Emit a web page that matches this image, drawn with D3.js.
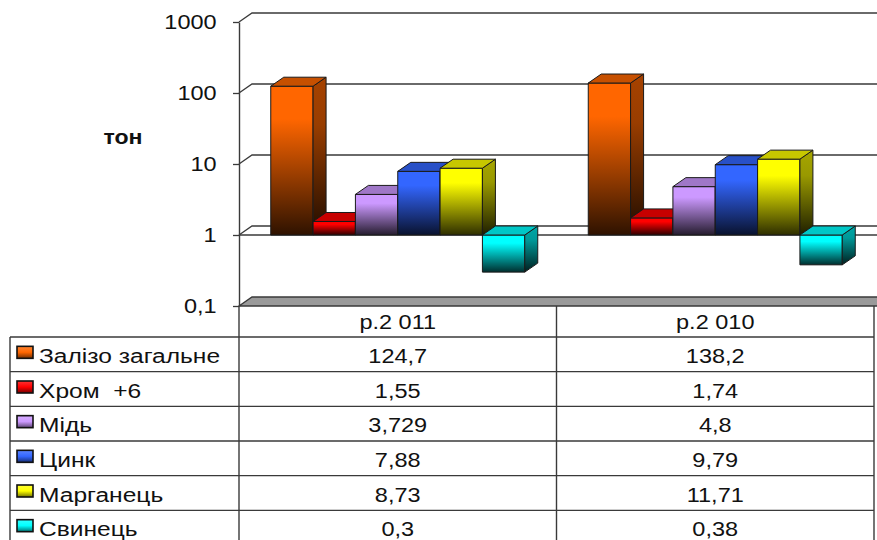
<!DOCTYPE html>
<html>
<head>
<meta charset="utf-8">
<script src="https://cdn.jsdelivr.net/npm/d3@7"></script>
<style>
  body { margin: 0; background: #fff; }
  text { font-family: "Liberation Sans", Arial, sans-serif; fill: #111; white-space: pre; }
</style>
</head>
<body>
<svg id="chart" width="877" height="540"></svg>
<script>
// Data
const years = ["р.2 011", "р.2 010"];
const metals = ["Залізо загальне", "Хром  +6", "Мідь", "Цинк", "Марганець", "Свинець"];
const values2011 = [124.7, 1.55, 3.729, 7.88, 8.73, 0.3];
const values2010 = [138.2, 1.74, 4.8, 9.79, 11.71, 0.38];
const colors = ["#FF6600", "#FF0000", "#CC99FF", "#3366FF", "#FFFF00", "#00FFFF"];
const tickValues = [1000, 100, 10, 1, 0.1];
const tickLabels = ["1000", "100", "10", "1", "0,1"];
const unitLabel = "тон";

const valuesByYear = [values2011, values2010];
const fmt = v => String(v).replace(".", ",");

// Layout
const W = 877, H = 540;
const axisX = 239, tableRight = 874, tableLeft = 10;
const depthX = 13, depthY = -9;
const lineColor = "#3a3a3a";
const stretch = 1.12;

const svg = d3.select("#chart");
const defs = svg.append("defs");

const y = d3.scaleLog().domain([0.1, 1000]).range([306, 22]);
const x0 = d3.scaleBand().domain(years).range([axisX, tableRight]);
const x1 = d3.scaleBand().domain(metals).range([0, x0.bandwidth()]).paddingInner(0).paddingOuter(0.75);
const rowY = d3.scaleBand().domain(metals).range([y(0.1) + 31, 545]);

function label(g, x, yy, str, size, anchor, sx = stretch, weight = "normal") {
  return g.append("text")
    .attr("transform", `translate(${x},${yy}) scale(${sx},1)`)
    .attr("text-anchor", anchor)
    .style("font-size", size + "px")
    .style("font-weight", weight)
    .text(str);
}

// Gradients for each series: front, side, legend key
const dark = (c, t) => d3.interpolateRgb(c, "#000")(t);
colors.forEach((c, i) => {
  const specs = [
    ["front", [[0, c], [0.22, c], [1, dark(c, 0.82)]]],
    ["side", [[0, dark(c, 0.35)], [0.3, dark(c, 0.4)], [1, dark(c, 0.88)]]],
    ["key", [[0, d3.interpolateRgb(c, "#fff")(0.2)], [0.5, c], [1, dark(c, 0.55)]]]
  ];
  specs.forEach(([name, stops]) => {
    const lg = defs.append("linearGradient").attr("id", `g-${name}-${i}`)
      .attr("x1", 0).attr("y1", 0).attr("x2", 0).attr("y2", 1);
    stops.forEach(([o, col]) => lg.append("stop").attr("offset", o).attr("stop-color", col));
  });
});

const walls = svg.append("g");

// Floor at 0.1
const yf = y(0.1);
walls.append("path")
  .attr("d", `M${axisX},${yf} L${axisX + depthX},${yf + depthY} L${W + 5},${yf + depthY} L${W + 5},${yf} Z`)
  .attr("fill", "#9a9a9a").attr("stroke", lineColor).attr("stroke-width", 1.4);

// Side-wall and back-wall gridlines
[1000, 100, 10, 1].forEach(t => {
  walls.append("path")
    .attr("d", `M${axisX},${y(t)} L${axisX + depthX},${y(t) + depthY} L${W + 5},${y(t) + depthY}`)
    .attr("fill", "none").attr("stroke", lineColor).attr("stroke-width", 1.3);
});

// Category axis line crossing at 1
walls.append("line")
  .attr("x1", axisX).attr("x2", W + 5).attr("y1", y(1)).attr("y2", y(1))
  .attr("stroke", lineColor).attr("stroke-width", 1.3);

// Value axis
const yAxis = d3.axisLeft(y).tickValues(tickValues)
  .tickFormat((d, i) => tickLabels[i]).tickSize(6).tickSizeOuter(0).tickPadding(14);
const ag = svg.append("g").attr("transform", `translate(${axisX},0)`).call(yAxis);
ag.select(".domain").attr("stroke", lineColor).attr("stroke-width", 1.4);
ag.selectAll(".tick line").attr("stroke", lineColor).attr("stroke-width", 1.3);
ag.selectAll(".tick text")
  .attr("transform", `scale(${stretch},1)`)
  .style("font-size", "21px").style("font-family", "Liberation Sans, Arial, sans-serif").attr("fill", "#111");

label(svg, 123, 144, unitLabel, 21, "middle", 1.1, "bold");

// Bars
const bars = svg.append("g");
years.forEach((yr, yi) => {
  valuesByYear[yi].forEach((v, i) => {
    const bx = x0(yr) + x1(metals[i]);
    const bw = x1.bandwidth();
    const yTop = v >= 1 ? y(v) : y(1);
    const yBot = v >= 1 ? y(1) : y(v);
    const g = bars.append("g").attr("stroke", "#1a1a1a").attr("stroke-width", 1).attr("stroke-linejoin", "round");
    g.append("rect").attr("x", bx).attr("y", yTop).attr("width", bw).attr("height", yBot - yTop)
      .attr("fill", `url(#g-front-${i})`);
    g.append("path")
      .attr("d", `M${bx + bw},${yTop} L${bx + bw + depthX},${yTop + depthY} L${bx + bw + depthX},${yBot + depthY} L${bx + bw},${yBot} Z`)
      .attr("fill", `url(#g-side-${i})`);
    g.append("path")
      .attr("d", `M${bx},${yTop} L${bx + depthX},${yTop + depthY} L${bx + bw + depthX},${yTop + depthY} L${bx + bw},${yTop} Z`)
      .attr("fill", dark(colors[i], 0.22));
  });
});

// Data table
const table = svg.append("g");
const tline = (x1_, y1_, x2_, y2_) => table.append("line")
  .attr("x1", x1_).attr("y1", y1_).attr("x2", x2_).attr("y2", y2_)
  .attr("stroke", lineColor).attr("stroke-width", 1.4);

const headTop = yf, headBot = rowY.range()[0];
tline(axisX, headTop, axisX, H + 5);
years.forEach(yr => tline(x0(yr) + x0.bandwidth(), headTop, x0(yr) + x0.bandwidth(), H + 5));
tline(tableLeft, headBot, tableLeft, H + 5);
metals.forEach(m => tline(tableLeft, rowY(m), tableRight, rowY(m)));

years.forEach(yr => label(table, x0(yr) + x0.bandwidth() / 2, headTop + 23, yr, 21, "middle"));

metals.forEach((m, i) => {
  const top = rowY(m), rh = rowY.bandwidth();
  table.append("rect").attr("x", 17).attr("y", top + rh / 2 - 8).attr("width", 16).attr("height", 12)
    .attr("fill", `url(#g-key-${i})`).attr("stroke", "#111").attr("stroke-width", 1.6);
  label(table, 39, top + 26, m, 21, "start", 1.17);
  years.forEach((yr, yi) => {
    label(table, x0(yr) + x0.bandwidth() / 2, top + 26, fmt(valuesByYear[yi][i]), 21, "middle");
  });
});
</script>
</body>
</html>
